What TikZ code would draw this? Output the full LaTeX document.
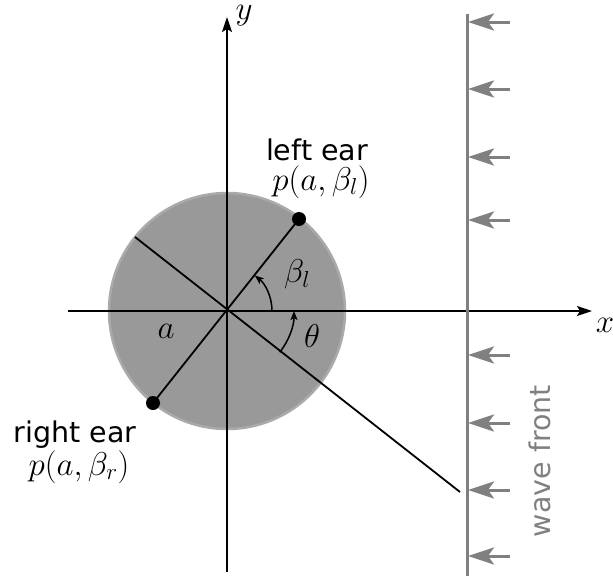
\documentclass[tikz,border=0pt]{standalone}
\usepackage{fix-cm}
\usepackage{fontspec}
\setsansfont{DejaVu Sans}
\usetikzlibrary{arrows.meta}
\definecolor{headfill}{HTML}{999999}
\definecolor{headedge}{HTML}{AAAAAA}
\definecolor{wavegray}{HTML}{808080}
\begin{document}
\begin{tikzpicture}[x=1pt,y=-1pt,
  axis/.style={line width=1.8pt,-{Stealth[length=15pt,width=10pt,inset=3pt]}},
  thin line/.style={line width=1.8pt},
  wavearrow/.style={wavegray,line width=3pt,-{Stealth[length=26pt,width=17pt,inset=6pt]}},
  anglearrow/.style={line width=1.5pt,-{Stealth[length=9pt,width=7pt,inset=2pt]}},
  lbl/.style={font=\sffamily\fontsize{28.5}{32}\selectfont,inner sep=0pt},
  mlbl/.style={font=\fontsize{33}{38}\selectfont,inner sep=0pt},
  dot/.style={circle,fill=black,inner sep=0pt,minimum size=14pt}]
\useasboundingbox (0,0) rectangle (613,576);
\coordinate (C) at (227,311);
% head
\fill[headfill,draw=headedge,line width=2.5pt] (C) circle[radius=118];
% axes
\coordinate (xl) at (68,311);
\coordinate (xr) at (592,311);
\coordinate (yb) at (227,572);
\coordinate (yt) at (227,17);
\draw[axis] (xl) -- (xr);
\draw[axis] (yb) -- (yt);
\node[mlbl,anchor=base] (ylab) at (244,19) {$y$};
\node[mlbl,anchor=base] (xlab) at (605,332) {$x$};
% ears
\node[dot] (le) at (299,219) {};
\node[dot] (re) at (153,403) {};
\draw[thin line] (re.center) -- (le.center);
% direction line
\coordinate (u) at (135,237);
\coordinate (d) at (460,492);
\draw[thin line] (u) -- (d);
% angles
\draw[anglearrow] ([shift={(45,0)}]C) arc[start angle=0,end angle=-52,radius=45];
\draw[anglearrow] ([shift={(38:67)}]C) arc[start angle=38,end angle=0,radius=67];
\node[mlbl] (bl) at (297,274) {$\beta_l$};
\node[mlbl] (th) at (312,336) {$\theta$};
\node[mlbl] (al) at (166,331) {$a$};
% ear labels
\node[lbl,anchor=base] (let) at (317,160) {left ear};
\node[mlbl,anchor=base] (lem) at (321,190) {$p(a,\beta_l)$};
\node[lbl,anchor=base] (ret) at (75,442) {right ear};
\node[mlbl,anchor=base] (rem) at (79,475) {$p(a,\beta_r)$};
% wave front
\coordinate (wt) at (467,14);
\coordinate (wb) at (467,576);
\draw[wavegray,line width=3pt] (wt) -- (wb);
\foreach \yy [count=\i] in {22,89,157,220,355,423,490,556}{
  \coordinate (ws\i) at (510,\yy);
  \coordinate (we\i) at (468,\yy);
  \draw[wavearrow] (ws\i) -- (we\i);
}
\node[lbl,text=wavegray,rotate=90] (wf) at (540,461) {wave front};
\end{tikzpicture}
\end{document}
